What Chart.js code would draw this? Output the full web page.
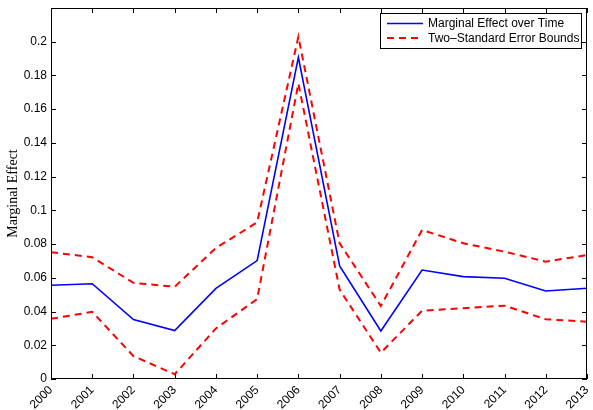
<!DOCTYPE html>
<html>
<head>
<meta charset="utf-8">
<script src="https://cdn.jsdelivr.net/npm/chart.js@4.4.1/dist/chart.umd.min.js"></script>
<style>
  body { margin: 0; background: #fff; }
</style>
</head>
<body>
<canvas id="lineChart" width="593" height="410"></canvas>
<script>
// dados
const anos = ['2000', '2001', '2002', '2003', '2004', '2005', '2006', '2007', '2008', '2009', '2010', '2011', '2012', '2013'];
const efeitoMarginal = [0.0556, 0.0565, 0.0352, 0.0287, 0.0537, 0.0702, 0.1907, 0.067, 0.0285, 0.0646, 0.0607, 0.0597, 0.0522, 0.0538];
const limiteSuperior = [0.0752, 0.0722, 0.057, 0.0547, 0.0777, 0.0929, 0.203, 0.0805, 0.0433, 0.0884, 0.0805, 0.0755, 0.0696, 0.0735];
const limiteInferior = [0.0357, 0.0398, 0.0136, 0.0028, 0.0300, 0.0474, 0.1752, 0.053, 0.0156, 0.0405, 0.0420, 0.0435, 0.0354, 0.0340];
const ticksY = [0, 0.02, 0.04, 0.06, 0.08, 0.1, 0.12, 0.14, 0.16, 0.18, 0.2];

const fonteTexto = 'Liberation Sans';

// moldura estilo matlab: caixa fechada, ticks pra dentro e legenda no canto
const moldura = {
  id: 'moldura',
  afterDatasetsDraw(chart) {
    const { ctx, chartArea: a, scales: { x, y } } = chart;
    ctx.save();
    ctx.strokeStyle = '#000';
    ctx.lineWidth = 1;
    ctx.beginPath();
    x.ticks.forEach(function (t, i) {
      const px = Math.round(x.getPixelForTick(i)) + 0.5;
      ctx.moveTo(px, a.bottom); ctx.lineTo(px, a.bottom - 5);
      ctx.moveTo(px, a.top); ctx.lineTo(px, a.top + 5);
    });
    ticksY.forEach(function (v) {
      const py = Math.round(y.getPixelForValue(v)) + 0.5;
      ctx.moveTo(a.left, py); ctx.lineTo(a.left + 5, py);
      ctx.moveTo(a.right, py); ctx.lineTo(a.right - 5, py);
    });
    ctx.stroke();
    ctx.strokeRect(a.left + 0.5, a.top + 0.5, a.right - a.left - 1, a.bottom - a.top - 1);

    // legenda
    const lx = Math.round(a.right) - 207, ly = Math.round(a.top) + 5;
    ctx.fillStyle = '#fff';
    ctx.fillRect(lx, ly, 201, 35);
    ctx.strokeRect(lx + 0.5, ly + 0.5, 201, 35);
    const itens = chart.data.datasets.filter(function (d) { return d.label; });
    ctx.font = '12px ' + fonteTexto;
    ctx.textBaseline = 'middle';
    itens.forEach(function (d, i) {
      const yy = ly + 10.5 + i * 14.5;
      ctx.strokeStyle = d.borderColor;
      ctx.lineWidth = d.borderWidth;
      ctx.setLineDash(d.borderDash || []);
      ctx.beginPath();
      ctx.moveTo(lx + 7, yy); ctx.lineTo(lx + 43, yy);
      ctx.stroke();
      ctx.setLineDash([]);
      ctx.fillStyle = '#000';
      ctx.fillText(d.label, lx + 48, yy + 0.5);
    });
    ctx.restore();
  }
};

new Chart(document.getElementById('lineChart'), {
  type: 'line',
  data: {
    labels: anos,
    datasets: [{
      label: 'Marginal Effect over Time',
      data: efeitoMarginal,
      borderColor: '#0000ff',
      borderWidth: 1.6,
      pointRadius: 0,
      tension: 0,
      fill: false
    }, {
      label: 'Two\u2013Standard Error Bounds',
      data: limiteSuperior,
      borderColor: '#ff0000',
      borderWidth: 2,
      borderDash: [7, 5],
      pointRadius: 0,
      tension: 0,
      fill: false
    }, {
      label: '',
      data: limiteInferior,
      borderColor: '#ff0000',
      borderWidth: 2,
      borderDash: [7, 5],
      pointRadius: 0,
      tension: 0,
      fill: false
    }]
  },
  options: {
    responsive: false,
    animation: false,
    layout: { padding: { top: 8, right: 6, left: 0, bottom: 0 } },
    plugins: {
      legend: { display: false },
      tooltip: { enabled: false }
    },
    scales: {
      x: {
        offset: false,
        grid: { display: false, drawTicks: false },
        border: { display: false },
        ticks: {
          color: '#000',
          font: { family: fonteTexto, size: 12 },
          maxRotation: 45,
          minRotation: 45,
          padding: 4,
          autoSkip: false
        },
        afterFit: function (scale) {
          scale.height = 31;
          scale.paddingLeft = 0;
          scale.paddingRight = 0;
        }
      },
      y: {
        min: 0,
        max: 0.22,
        grid: { display: false, drawTicks: false },
        border: { display: false },
        afterBuildTicks: function (scale) {
          scale.ticks = ticksY.map(function (v) { return { value: v }; });
        },
        ticks: {
          color: '#000',
          font: { family: fonteTexto, size: 12 },
          padding: 4,
          callback: function (v) { return String(+v.toFixed(2)); }
        },
        title: {
          display: true,
          text: 'Marginal Effect',
          color: '#000',
          font: { family: 'Liberation Serif', size: 14 },
          padding: { top: 5, bottom: 0 }
        },
        afterFit: function (scale) {
          scale.width = 51;
          scale.paddingTop = 0;
          scale.paddingBottom = 0;
        }
      }
    }
  },
  plugins: [moldura]
});
</script>
</body>
</html>
